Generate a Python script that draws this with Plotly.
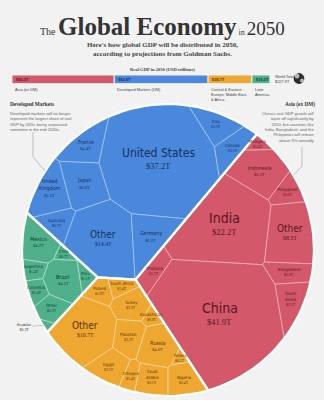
import numpy as np
import plotly.graph_objects as go

# ---------------- data ----------------
regions = ["Asia (ex DM)", "Developed Markets (DM)",
           "Central & Eastern<br>Europe, Middle East,<br>& Africa", "Latin<br>America"]
region_totals = [90.3, 82.9, 38.7, 16.0]
world_total = 227.9

asia_countries = ["China", "India", "Other", "Indonesia", "Bangladesh", "South Korea",
                  "Philippines", "Thailand", "Malaysia"]
asia_values = [41.9, 22.2, 8.3, 6.3, 3.9, 3.5, 3.0, 1.7, 1.4]

dm_countries = ["United States", "Other", "Germany", "Japan", "United Kingdom", "France",
                "Italy", "Canada", "Australia"]
dm_values = [37.2, 14.4, 6.2, 6.0, 5.1, 4.4, 3.5, 3.3, 2.7]

ceemea_countries = ["Other", "Russia", "Egypt", "Nigeria", "Turkey", "Pakistan", "Saudi Arabia",
                    "Poland", "South Africa", "Ethiopia", "Kazakhstan", "Ghana"]
ceemea_values = [10.7, 4.6, 3.5, 3.4, 3.3, 3.3, 3.1, 1.9, 1.4, 1.4, 0.9, 0.5]

latam_countries = ["Brazil", "Mexico", "Other", "Argentina", "Colombia", "Peru", "Chile", "Ecuador"]
latam_values = [4.5, 4.2, 2.3, 1.4, 1.4, 1.1, 0.7, 0.3]

# ---------------- layout / style ----------------
BG = "#f2f2f2"
CX, CY, R = 168.0, 250.0, 146.0
NAME_FONT = "DejaVu Sans Condensed, Liberation Sans Narrow, sans-serif"
SERIF = "Liberation Serif, DejaVu Serif, serif"
SANS = "Liberation Sans, Arial, sans-serif"

# fill, inner border, label color
STYLE = {
    "asia": ("#d2586a", "#eeb3ba", "#5a1620"),
    "dm": ("#4a88dc", "#a9c8f2", "#16305f"),
    "ceemea": ("#eea832", "#f7d99c", "#573404"),
    "latam": ("#4fb08b", "#b3e0cd", "#103e2e"),
}

# seed hints for the Voronoi treemap layout (pixel space)
SEEDS = {
    "asia": [(222, 322), (205, 228), (293, 235), (255, 180), (290, 272), (293, 300),
             (290, 205), (155, 298), (243, 150)],
    "dm": [(160, 160), (100, 250), (150, 240), (85, 198), (50, 195), (82, 150),
           (205, 125), (225, 148), (42, 226)],
    "ceemea": [(85, 335), (155, 335), (110, 372), (190, 378), (122, 317), (132, 357),
               (160, 377), (98, 297), (123, 292), (137, 388), (140, 305), (176, 352)],
    "latam": [(60, 290), (37, 255), (52, 318), (30, 282), (37, 303), (85, 285), (58, 265), (45, 335)],
}
# small nudges of the four region seeds
REGION_NUDGE = {"asia": (-6, 6), "dm": (0, 0), "ceemea": (0, 0), "latam": (3, 10)}
DISPLAY = {"United Kingdom": "United<br>Kingdom", "South Korea": "South<br>Korea",
           "Saudi Arabia": "Saudi<br>Arabia"}


# ---------------- geometry helpers ----------------
def circle_poly(cx, cy, r, n=120):
    t = np.linspace(0, 2 * np.pi, n, endpoint=False)
    return [(cx + r * np.cos(a), cy + r * np.sin(a)) for a in t]


def clip(poly, a, b, c):
    out = []
    n = len(poly)
    for k in range(n):
        P = poly[k]
        Q = poly[(k + 1) % n]
        fp = a * P[0] + b * P[1] - c
        fq = a * Q[0] + b * Q[1] - c
        if fp <= 0:
            out.append(P)
        if (fp < 0 < fq) or (fq < 0 < fp):
            t = fp / (fp - fq)
            out.append((P[0] + t * (Q[0] - P[0]), P[1] + t * (Q[1] - P[1])))
    return out


def poly_area(poly):
    if len(poly) < 3:
        return 0.0
    x = np.array([p[0] for p in poly])
    y = np.array([p[1] for p in poly])
    return 0.5 * abs(np.dot(x, np.roll(y, -1)) - np.dot(y, np.roll(x, -1)))


def poly_centroid(poly):
    x = np.array([p[0] for p in poly])
    y = np.array([p[1] for p in poly])
    x1, y1 = np.roll(x, -1), np.roll(y, -1)
    cr = x * y1 - x1 * y
    A = cr.sum() / 2
    if abs(A) < 1e-9:
        return np.array([x.mean(), y.mean()])
    return np.array([((x + x1) * cr).sum() / (6 * A), ((y + y1) * cr).sum() / (6 * A)])


def power_cells(S, W, container):
    cells = []
    n = len(S)
    for i in range(n):
        poly = list(container)
        for j in range(n):
            if i == j:
                continue
            a = 2 * (S[j, 0] - S[i, 0])
            b = 2 * (S[j, 1] - S[i, 1])
            c = (S[j] ** 2).sum() - (S[i] ** 2).sum() - W[j] + W[i]
            poly = clip(poly, a, b, c)
            if len(poly) < 3:
                poly = []
                break
        cells.append(poly)
    return cells


def fix_overweight(S, W):
    n = len(S)
    for _ in range(50):
        changed = False
        for i in range(n):
            for j in range(i + 1, n):
                hi, lo = (i, j) if W[i] > W[j] else (j, i)
                d2 = ((S[i] - S[j]) ** 2).sum()
                if d2 < W[hi] - W[lo]:
                    W[hi] -= (W[hi] - W[lo] - d2) + 1e-6
                    changed = True
        if not changed:
            break
    return W


def inside(pt, poly):
    sgn = 0
    n = len(poly)
    for k in range(n):
        P, Q = poly[k], poly[(k + 1) % n]
        cr = (Q[0] - P[0]) * (pt[1] - P[1]) - (Q[1] - P[1]) * (pt[0] - P[0])
        if abs(cr) > 1e-9:
            s = 1 if cr > 0 else -1
            if sgn == 0:
                sgn = s
            elif s != sgn:
                return False
    return True


def voronoi_treemap(container, seeds, values, iters=220, move=0.6):
    S = np.array(seeds, float)
    cen = poly_centroid(container)
    for k in range(len(S)):
        guard = 0
        while not inside(S[k], container) and guard < 60:
            S[k] = S[k] + 0.15 * (cen - S[k])
            guard += 1
    v = np.asarray(values, float)
    A = poly_area(container)
    target = A * v / v.sum()
    W = np.full(len(S), A / len(S) / 4.0)
    for it in range(iters):
        cells = power_cells(S, W, container)
        for k, c in enumerate(cells):
            if c:
                S[k] += move * (poly_centroid(c) - S[k])
        W = fix_overweight(S, W)
        cells = power_cells(S, W, container)
        areas = np.array([poly_area(c) for c in cells])
        ratio = np.where(areas > 0, target / np.maximum(areas, 1e-9), 1.1)
        ratio = np.clip(ratio, 0.9, 1.1)
        W = np.maximum(W * ratio, 1e-6)
        W = fix_overweight(S, W)
        if it > 60 and np.max(np.abs(areas - target) / target) < 0.004:
            break
    return power_cells(S, W, container)


# ---------------- compute layout ----------------
groups = [
    ("asia", asia_countries, asia_values),
    ("dm", dm_countries, dm_values),
    ("ceemea", ceemea_countries, ceemea_values),
    ("latam", latam_countries, latam_values),
]
circle = circle_poly(CX, CY, R)
region_seeds = []
region_sums = []
for key, names, vals in groups:
    sd = np.array(SEEDS[key], float)
    vv = np.array(vals, float)
    m = (sd * vv[:, None]).sum(0) / vv.sum()
    dx, dy = REGION_NUDGE[key]
    region_seeds.append((m[0] + dx, m[1] + dy))
    region_sums.append(vv.sum())
region_cells = voronoi_treemap(circle, region_seeds, region_sums, iters=200, move=0.15)

fig = go.Figure()
annotations = []


def closed(poly):
    xs = [p[0] for p in poly] + [poly[0][0]]
    ys = [p[1] for p in poly] + [poly[0][1]]
    return xs, ys


def size_for(v, name):
    if v >= 20:
        return (12 if len(name) > 8 else 14), 8.5
    if v >= 8:
        return 10, 5.8
    if v >= 4:
        return 5.4, 4.5
    return 4.3, 3.8


for (key, names, vals), rcell in zip(groups, region_cells):
    fill, inner, lab = STYLE[key]
    cells = voronoi_treemap(rcell, SEEDS[key], vals)
    for name, v, c in zip(names, vals, cells):
        if not c:
            continue
        xs, ys = closed(c)
        fig.add_trace(go.Scatter(x=xs, y=ys, mode="lines", fill="toself", fillcolor=fill,
                                 line=dict(color=inner, width=0.7), hoverinfo="skip",
                                 showlegend=False))
        cx, cy = poly_centroid(c)
        ns, vs = size_for(v, name)
        label = DISPLAY.get(name, name)
        if name == "Ecuador":
            annotations.append(dict(
                x=cx, y=cy, xref="x", yref="y", ax=24, ay=cy + 2, axref="x", ayref="y",
                text=f"<span style='font-family:{NAME_FONT}'>{label}</span><br>${v:.1f}T",
                showarrow=True, arrowhead=0, arrowwidth=0.5, arrowcolor="#9a9a9a",
                font=dict(family=SERIF, size=3.9, color="#333"), borderpad=0, standoff=0))
            continue
        annotations.append(dict(x=cx, y=cy, xref="x", yref="y", text=label, showarrow=False,
                                yanchor="bottom", borderpad=0, yshift=-0.5,
                                font=dict(family=NAME_FONT, size=ns, color=lab)))
        annotations.append(dict(x=cx, y=cy, xref="x", yref="y", text=f"${v:.1f}T", showarrow=False,
                                yanchor="top", borderpad=0, yshift=0.5,
                                font=dict(family=SERIF, size=vs, color=lab)))

for rcell in region_cells:
    xs, ys = closed(rcell)
    fig.add_trace(go.Scatter(x=xs, y=ys, mode="lines", line=dict(color="white", width=2.2),
                             hoverinfo="skip", showlegend=False))

# ---------------- top bar ----------------
bar_colors = [STYLE["asia"][0], STYLE["dm"][0], STYLE["ceemea"][0], STYLE["latam"][0]]
bar_text_colors = [STYLE["asia"][2], STYLE["dm"][2], STYLE["ceemea"][2], STYLE["latam"][2]]
bases = np.concatenate([[0], np.cumsum(region_totals)[:-1]])
fig.add_trace(go.Bar(x=region_totals, y=[0] * 4, base=bases, orientation="h", width=1,
                     marker=dict(color=bar_colors, line=dict(color=BG, width=1)),
                     xaxis="x2", yaxis="y2", hoverinfo="skip", showlegend=False))
for b, t, col, reg in zip(bases, region_totals, bar_text_colors, regions):
    annotations.append(dict(x=b, y=0, xref="x2", yref="y2", text=f"<b>${t:.1f}T</b>",
                            showarrow=False, xanchor="left", xshift=2,
                            font=dict(family=SANS, size=4, color=col)))
    annotations.append(dict(x=b, y=85, xref="x2", yref="y", text=reg, showarrow=False,
                            xanchor="left", yanchor="top", xshift=1, align="left",
                            font=dict(family=SANS, size=3.9, color="#444")))
annotations.append(dict(x=sum(region_totals), y=79, xref="x2", yref="y",
                        text=f"World Total<br>${world_total:.1f}T", showarrow=False,
                        xanchor="left", xshift=3, align="left",
                        font=dict(family=SANS, size=3.9, color="#444")))
fig.add_trace(go.Scatter(x=[299], y=[78.5], mode="markers",
                         marker=dict(size=12, color="#2d2d2d", line=dict(color="#f2f2f2", width=1.2),
                                     symbol="circle"),
                         hoverinfo="skip", showlegend=False))
fig.add_trace(go.Scatter(x=[297, 302], y=[76, 80.5], mode="markers",
                         marker=dict(size=[4, 3], color="#f2f2f2", symbol="circle"),
                         hoverinfo="skip", showlegend=False))
annotations.append(dict(x=0.5, y=69.5, xref="paper", yref="y",
                        text="<b>Real GDP in 2050 (USD trillions)</b>", showarrow=False,
                        font=dict(family=SERIF, size=4.6, color="#444")))

# ---------------- titles ----------------
annotations.append(dict(
    x=0.5, y=26, xref="paper", yref="y", showarrow=False, yanchor="middle",
    text=("<span style='font-size:10px'>The </span><b>Global Economy</b>"
          "<span style='font-size:8px'> in </span><span style='font-size:19px'>2050</span>"),
    font=dict(family=SERIF, size=25, color="#333333")))
annotations.append(dict(
    x=0.5, y=49.5, xref="paper", yref="y", showarrow=False, yanchor="middle",
    text="<b>Here's how global GDP will be distributed in 2050,<br>"
         "according to projections from Goldman Sachs.</b>",
    font=dict(family=SERIF, size=7, color="#444")))

# side notes
annotations.append(dict(x=8, y=104, xref="x", yref="y", showarrow=False, xanchor="left",
                        text="<b>Developed Markets</b>",
                        font=dict(family=SERIF, size=5.3, color="#333")))
annotations.append(dict(x=8, y=109, xref="x", yref="y", showarrow=False, xanchor="left",
                        yanchor="top", align="left",
                        text="Developed markets will no longer<br>represent the largest share of real"
                             "<br>GDP by 2050, being surpassed<br>sometime in the mid 2030s.",
                        font=dict(family=SANS, size=4.1, color="#666")))
annotations.append(dict(x=317, y=104, xref="x", yref="y", showarrow=False, xanchor="right",
                        text="<b>Asia (ex DM)</b>",
                        font=dict(family=SERIF, size=5.3, color="#333")))
annotations.append(dict(x=317, y=109, xref="x", yref="y", showarrow=False, xanchor="right",
                        yanchor="top", align="right",
                        text="China's real GDP growth will<br>taper off significantly by<br>"
                             "2050, but countries like<br>India, Bangladesh, and the<br>"
                             "Philippines will remain<br>above 3% annually",
                        font=dict(family=SANS, size=4.1, color="#666")))

shapes = [
    dict(type="path", path="M 33 132 L 33 157 L 45 171", xref="x", yref="y",
         line=dict(color="#9a9a9a", width=0.6)),
    dict(type="path", path="M 302 147 L 302 166 L 291 178", xref="x", yref="y",
         line=dict(color="#9a9a9a", width=0.6)),
]

fig.update_layout(
    width=324, height=400, margin=dict(l=0, r=0, t=0, b=0),
    paper_bgcolor=BG, plot_bgcolor=BG, showlegend=False, barmode="overlay",
    xaxis=dict(range=[0, 324], visible=False, domain=[0, 1], fixedrange=True),
    yaxis=dict(range=[400, 0], visible=False, domain=[0, 1], fixedrange=True),
    xaxis2=dict(range=[0, sum(region_totals)], domain=[12 / 324, 270 / 324], visible=False,
                anchor="y2"),
    yaxis2=dict(range=[-0.5, 0.5], domain=[1 - 83.5 / 400, 1 - 75 / 400], visible=False,
                anchor="x2"),
    annotations=annotations, shapes=shapes,
)
fig.write_html("out.html")
